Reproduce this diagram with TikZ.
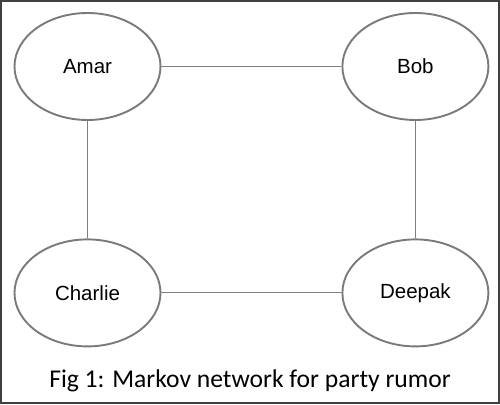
\documentclass[tikz,border=0pt]{standalone}
\usepackage{fontspec}
\setmainfont{Liberation Sans}
\newfontfamily\capfont{Carlito}
\usetikzlibrary{positioning,shapes.geometric}

\tikzset{person/.style={ellipse, draw=black!52, line width=1.9pt, minimum width=146pt, minimum height=107pt, inner sep=0pt, font=\fontsize{20.5}{24}\selectfont}}
\tikzset{link/.style={draw=black!50, line width=1pt}}

\begin{document}
\begin{tikzpicture}[x=1pt,y=1pt]

\draw[fill=white, draw=black!75, line width=2pt] (1,1) rectangle (499,403);
\useasboundingbox (0,0) rectangle (500,404);

\node[person]		(amar)		at (87.5,337.5) {Amar};
\node[person, right = 180pt of amar]		(bob)		{Bob};
\node[person, below = 117.5pt of amar]		(charlie)		{Charlie};
\node[person, below = 117.5pt of bob]		(deepak)		{Deepak};
\node[font=\capfont\fontsize{25.6}{30}\selectfont, anchor=base]		(caption)		at (250,17) {Fig 1: Markov network for party rumor};

\draw[link] (amar) -- (bob);
\draw[link] (amar) -- (charlie);
\draw[link] (bob) -- (deepak);
\draw[link] (charlie) -- (deepak);

\end{tikzpicture}
\end{document}
